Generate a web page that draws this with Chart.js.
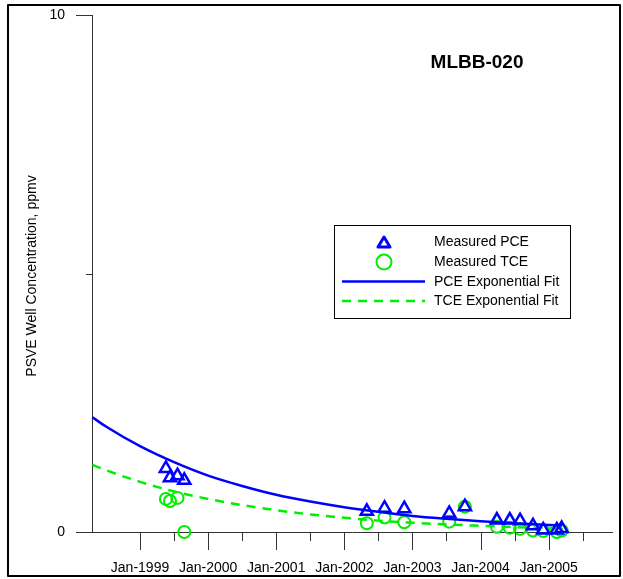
<!DOCTYPE html>
<html>
<head>
<meta charset="utf-8">
<script src="https://cdn.jsdelivr.net/npm/chart.js@4.4.1/dist/chart.umd.min.js"></script>
<style>
  html, body { margin: 0; padding: 0; background: #fff; }
  canvas { display: block; }
</style>
</head>
<body>
<canvas id="chart" width="623" height="579"></canvas>
<script>
// sample dates (decimal years) and measured concentrations, ppmv
const sampleDates = [1999.38, 1999.44, 1999.55, 1999.65, 2002.33, 2002.59, 2002.88, 2003.54,
                     2003.77, 2004.24, 2004.43, 2004.58, 2004.77, 2004.92, 2005.12, 2005.19];
const pceMeasured = [1.23, 1.05, 1.09, 1.00, 0.40, 0.46, 0.45, 0.36,
                     0.49, 0.23, 0.23, 0.22, 0.12, 0.04, 0.04, 0.07];
const tceMeasured = [0.64, 0.60, 0.66, 0.00, 0.17, 0.28, 0.19, 0.20,
                     0.49, 0.10, 0.08, 0.06, 0.03, 0.02, 0.00, 0.03];

// exponential fit curves
const fitDates = [1998.3, 1998.5, 1999, 1999.5, 2000, 2000.5, 2001, 2001.5,
                  2002, 2002.5, 2003, 2003.5, 2004, 2004.5, 2005, 2005.2];
const pceFit = [2.22, 2.04, 1.66, 1.35, 1.09, 0.89, 0.72, 0.59,
                0.48, 0.39, 0.31, 0.255, 0.21, 0.17, 0.137, 0.126];
const tceFit = [1.30, 1.195, 0.97, 0.785, 0.64, 0.52, 0.42, 0.34,
                0.275, 0.22, 0.18, 0.146, 0.12, 0.096, 0.078, 0.071];

const xTicks = [1999, 1999.5, 2000, 2000.5, 2001, 2001.5, 2002, 2002.5,
                2003, 2003.5, 2004, 2004.5, 2005, 2005.5];
const yTicks = [0, 5, 10];

const BLUE = '#0000ff';
const GREEN = '#00ee00';
const AXIS = '#333333';
const FONT = '"Liberation Sans", Arial, sans-serif';

const pts = (xs, ys) => xs.map((x, i) => ({ x: x, y: ys[i] }));

const extras = {
  id: 'extras',
  afterDraw(chart) {
    const { ctx, chartArea: area, scales: { x, y } } = chart;
    ctx.save();

    // tick marks
    ctx.strokeStyle = AXIS;
    ctx.lineWidth = 1;
    ctx.beginPath();
    x.ticks.forEach(t => {
      const px = Math.round(x.getPixelForValue(t.value)) + 0.5;
      const len = Number.isInteger(t.value) ? 18 : 9;
      ctx.moveTo(px, area.bottom);
      ctx.lineTo(px, area.bottom + len);
    });
    y.ticks.forEach(t => {
      const py = Math.round(y.getPixelForValue(t.value)) + 0.5;
      const len = t.value === 5 ? 6 : 16;
      ctx.moveTo(area.left, py);
      ctx.lineTo(area.left - len, py);
    });
    ctx.stroke();

    // well name
    ctx.fillStyle = '#000';
    ctx.font = 'bold 19px ' + FONT;
    ctx.textAlign = 'center';
    ctx.textBaseline = 'middle';
    ctx.fillText('MLBB-020', 477, 63);

    // y axis title
    ctx.save();
    ctx.translate(32, 276);
    ctx.rotate(-Math.PI / 2);
    ctx.font = '14px ' + FONT;
    ctx.fillText('PSVE Well Concentration, ppmv', 0, 0);
    ctx.restore();

    // legend box
    ctx.fillStyle = '#fff';
    ctx.fillRect(334, 225, 237, 94);
    ctx.strokeStyle = '#000';
    ctx.lineWidth = 1;
    ctx.strokeRect(334.5, 225.5, 236, 93);

    ctx.strokeStyle = BLUE;
    ctx.lineWidth = 3;
    ctx.lineJoin = 'round';
    ctx.beginPath();
    ctx.moveTo(384, 237);
    ctx.lineTo(390, 247);
    ctx.lineTo(378, 247);
    ctx.closePath();
    ctx.stroke();

    ctx.strokeStyle = GREEN;
    ctx.lineWidth = 2;
    ctx.beginPath();
    ctx.arc(384, 262, 7.5, 0, Math.PI * 2);
    ctx.stroke();

    ctx.strokeStyle = BLUE;
    ctx.lineWidth = 2.5;
    ctx.beginPath();
    ctx.moveTo(342, 281.5);
    ctx.lineTo(425, 281.5);
    ctx.stroke();

    ctx.strokeStyle = GREEN;
    ctx.setLineDash([9, 7]);
    ctx.beginPath();
    ctx.moveTo(342, 301);
    ctx.lineTo(425, 301);
    ctx.stroke();
    ctx.setLineDash([]);

    ctx.fillStyle = '#000';
    ctx.font = '14px ' + FONT;
    ctx.textAlign = 'left';
    ['Measured PCE', 'Measured TCE', 'PCE Exponential Fit', 'TCE Exponential Fit']
      .forEach((s, i) => ctx.fillText(s, 434, 242.5 + i * 19.6));

    // outer frame
    ctx.strokeStyle = '#000';
    ctx.lineWidth = 2;
    ctx.strokeRect(8, 5, 612, 571);
    ctx.restore();
  }
};

new Chart(document.getElementById('chart'), {
  type: 'scatter',
  data: {
    datasets: [
      {
        label: 'Measured PCE',
        data: pts(sampleDates, pceMeasured),
        pointStyle: 'triangle',
        pointRadius: 7,
        borderColor: BLUE,
        backgroundColor: 'rgba(0,0,0,0)',
        borderWidth: 2.5,
        clip: false,
        order: 0
      },
      {
        label: 'PCE Exponential Fit',
        data: pts(fitDates, pceFit),
        showLine: true,
        pointRadius: 0,
        borderColor: BLUE,
        borderWidth: 2.5,
        cubicInterpolationMode: 'monotone',
        clip: false,
        order: 1
      },
      {
        label: 'TCE Exponential Fit',
        data: pts(fitDates, tceFit),
        showLine: true,
        pointRadius: 0,
        borderColor: GREEN,
        borderWidth: 2.5,
        borderDash: [9, 7],
        cubicInterpolationMode: 'monotone',
        clip: false,
        order: 2
      },
      {
        label: 'Measured TCE',
        data: pts(sampleDates, tceMeasured),
        pointStyle: 'circle',
        pointRadius: 6,
        borderColor: GREEN,
        backgroundColor: 'rgba(0,0,0,0)',
        borderWidth: 2,
        clip: false,
        order: 3
      }
    ]
  },
  options: {
    responsive: false,
    animation: false,
    devicePixelRatio: 1,
    layout: { padding: { top: 15, right: 11, left: 0, bottom: 0 } },
    plugins: { legend: { display: false }, tooltip: { enabled: false } },
    scales: {
      x: {
        type: 'linear',
        min: 1998.295,
        max: 2005.93,
        afterBuildTicks: s => { s.ticks = xTicks.map(v => ({ value: v })); },
        afterFit: s => { s.height = 47; },
        grid: { display: false, drawTicks: false },
        border: { display: true, color: AXIS, width: 1 },
        ticks: {
          autoSkip: false,
          maxRotation: 0,
          padding: 28,
          color: '#000',
          font: { family: FONT, size: 14 },
          callback: v => Number.isInteger(v) ? 'Jan-' + v : ''
        }
      },
      y: {
        min: 0,
        max: 10,
        afterBuildTicks: s => { s.ticks = yTicks.map(v => ({ value: v })); },
        afterFit: s => { s.width = 92; },
        // tick marks are drawn by the plugin; tickLength only offsets the labels
        grid: { display: false, drawTicks: true, tickLength: 27 },
        border: { display: true, color: AXIS, width: 1 },
        ticks: {
          padding: 0,
          color: '#000',
          font: { family: FONT, size: 14 },
          callback: v => v === 5 ? '' : v
        }
      }
    }
  },
  plugins: [extras]
});
</script>
</body>
</html>
